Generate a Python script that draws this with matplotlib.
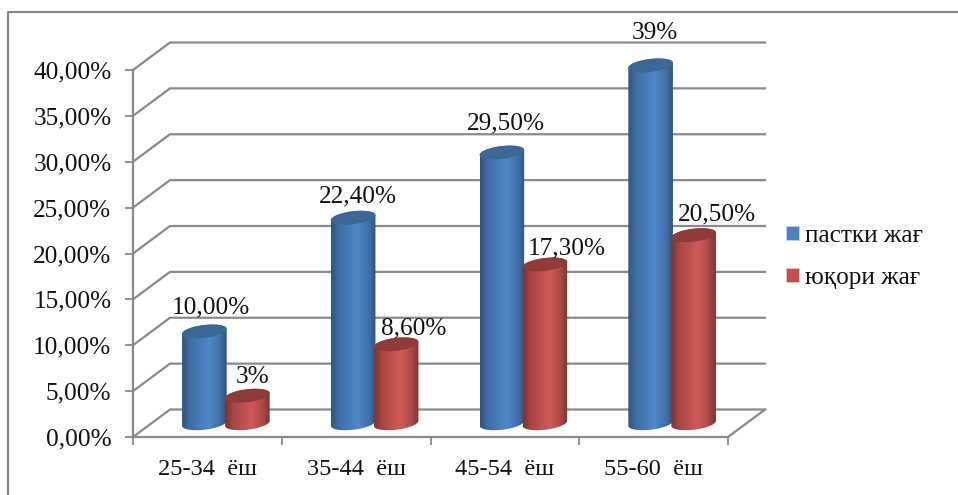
import numpy as np
import matplotlib
matplotlib.use("Agg")
import matplotlib.pyplot as plt
from matplotlib.colors import LinearSegmentedColormap
from matplotlib.lines import Line2D
from matplotlib.patches import Patch, Polygon

plt.rcParams['font.family'] = ['Liberation Serif', 'DejaVu Serif']

categories = ["25-34  ёш", "35-44  ёш", "45-54  ёш", "55-60  ёш"]
lower = [10.0, 22.4, 29.5, 39.0]
upper = [3.0, 8.6, 17.3, 20.5]
lower_labels = ["10,00%", "22,40%", "29,50%", "39%"]
upper_labels = ["3%", "8,60%", "17,30%", "20,50%"]
series_names = ["пастки жағ", "юқори жағ"]
y_ticks = [0, 5, 10, 15, 20, 25, 30, 35, 40]
y_tick_labels = ["0,00%", "5,00%", "10,00%", "15,00%", "20,00%",
                 "25,00%", "30,00%", "35,00%", "40,00%"]

W, H = 958, 495
GREY = "#8a8a8a"
fig = plt.figure(figsize=(W / 100, H / 100), dpi=100)

# front plane of the fake 3d box, everything else hangs off these scales
left, right, bottom, top = 133, 728, 437, 70
ax = fig.add_axes([left / W, 1 - bottom / H, (right - left) / W, (bottom - top) / H])
ax.set_xlim(0, 4)
ax.set_ylim(0, 40)
ax.patch.set_alpha(0)

px_x = (right - left) / 4
px_y = (bottom - top) / 40
depth_x = 37 / px_x
depth_y = 27.5 / px_y

# back wall and floor
for t in y_ticks:
    ax.plot([0, depth_x, 4 + depth_x], [t, t + depth_y, t + depth_y],
            color=GREY, lw=1.6, clip_on=False, zorder=1)
ax.plot([4, 4 + depth_x], [0, depth_y], color=GREY, lw=1.6, clip_on=False, zorder=1)

for s in ["top", "right"]:
    ax.spines[s].set_visible(False)
for s in ["left", "bottom"]:
    ax.spines[s].set_color(GREY)
    ax.spines[s].set_linewidth(1.6)

ax.set_yticks(y_ticks)
ax.set_yticklabels(y_tick_labels, fontsize=18.2, color="#111111")
ax.tick_params(axis="y", length=5.5, width=1.3, color=GREY, pad=10)
ax.set_xticks(range(5))
ax.set_xticklabels([])
ax.tick_params(axis="x", length=5.5, width=1.3, color=GREY)
for i, c in enumerate(categories):
    ax.annotate(c, (i + 0.5, 0), xytext=(0, -23.5), textcoords="offset points",
                ha="center", va="center", fontsize=17.6, color="#111111")

blue_map = LinearSegmentedColormap.from_list(
    "b", [(0, "#2f5480"), (0.18, "#3f6ea6"), (0.6, "#5087c8"), (0.85, "#406fa8"), (1, "#2f5480")])
red_map = LinearSegmentedColormap.from_list(
    "r", [(0, "#7c3331"), (0.18, "#a84644"), (0.6, "#cf5b58"), (0.85, "#a94846"), (1, "#7c3331")])


def cylinder(cx, value, cmap, cap_color, z):
    a = 22.3 / px_x
    b = 6.5 / px_y
    k = 2.5 / px_y
    base = depth_y / 2
    th_low = np.linspace(np.pi, 2 * np.pi, 40)
    th_up = np.linspace(0, np.pi, 40)
    xs = np.r_[cx + a * np.cos(th_low), cx + a * np.cos(th_up)]
    ys = np.r_[base + b * np.sin(th_low) + k * np.cos(th_low),
               base + value + b * np.sin(th_up) + k * np.cos(th_up)]
    body = Polygon(np.c_[xs, ys], closed=True, fc="none", ec="none",
                   transform=ax.transData, zorder=z)
    ax.add_patch(body)
    grad = np.linspace(0, 1, 128).reshape(1, -1)
    im = ax.imshow(grad, cmap=cmap, extent=[cx - a, cx + a, 0, base + value + 3],
                   aspect="auto", zorder=z, clip_on=True)
    im.set_clip_box(fig.bbox)
    im.set_clip_path(body)
    th = np.linspace(0, 2 * np.pi, 80)
    ax.add_patch(Polygon(np.c_[cx + a * np.cos(th),
                               base + value + b * np.sin(th) + k * np.cos(th)],
                         closed=True, fc=cap_color, ec="none", zorder=z + 0.1,
                         clip_on=False))
    return base + value


# label nudges off the cylinder top, in pixels
lower_nudge = [(6, 24), (5, 21), (4, 29), (4, 32)]
upper_nudge = [(5, 19), (18, 16), (22, 16), (23, 21)]

for i in range(4):
    mid = i + 0.5 + (depth_x - 1 / px_x) / 2
    y1 = cylinder(mid - 21 / px_x, lower[i], blue_map, "#3c6696", 3 + i)
    y2 = cylinder(mid + 22 / px_x, upper[i], red_map, "#8e3b39", 3.5 + i)
    ax.annotate(lower_labels[i], (mid - 21 / px_x, y1),
                xytext=(lower_nudge[i][0] * 0.72, lower_nudge[i][1] * 0.72),
                textcoords="offset points", ha="center", va="center",
                fontsize=18.2, color="#111111", zorder=20, annotation_clip=False)
    ax.annotate(upper_labels[i], (mid + 22 / px_x, y2),
                xytext=(upper_nudge[i][0] * 0.72, upper_nudge[i][1] * 0.72),
                textcoords="offset points", ha="center", va="center",
                fontsize=18.2, color="#111111", zorder=20, annotation_clip=False)

ax.set_xlim(0, 4)
ax.set_ylim(0, 40)

handles = [Patch(fc="#4f81bd", ec="#c9d8ec", lw=0.5), Patch(fc="#c0504d", ec="#eccccb", lw=0.5)]
fig.legend(handles, series_names, loc="center left", bbox_to_anchor=(786 / W, 1 - 257 / H),
           frameon=False, fontsize=18.2, handlelength=0.5, handleheight=0.5,
           handletextpad=0.26, labelspacing=0.8, labelcolor="#111111",
           borderaxespad=0, borderpad=0)

# outer frame of the pasted chart, only left and top show
fig.add_artist(Line2D([8 / W, 8 / W, 1], [0, 1 - 12 / H, 1 - 12 / H], color="#868686", lw=1.5))

fig.savefig("out.png", dpi=100)
